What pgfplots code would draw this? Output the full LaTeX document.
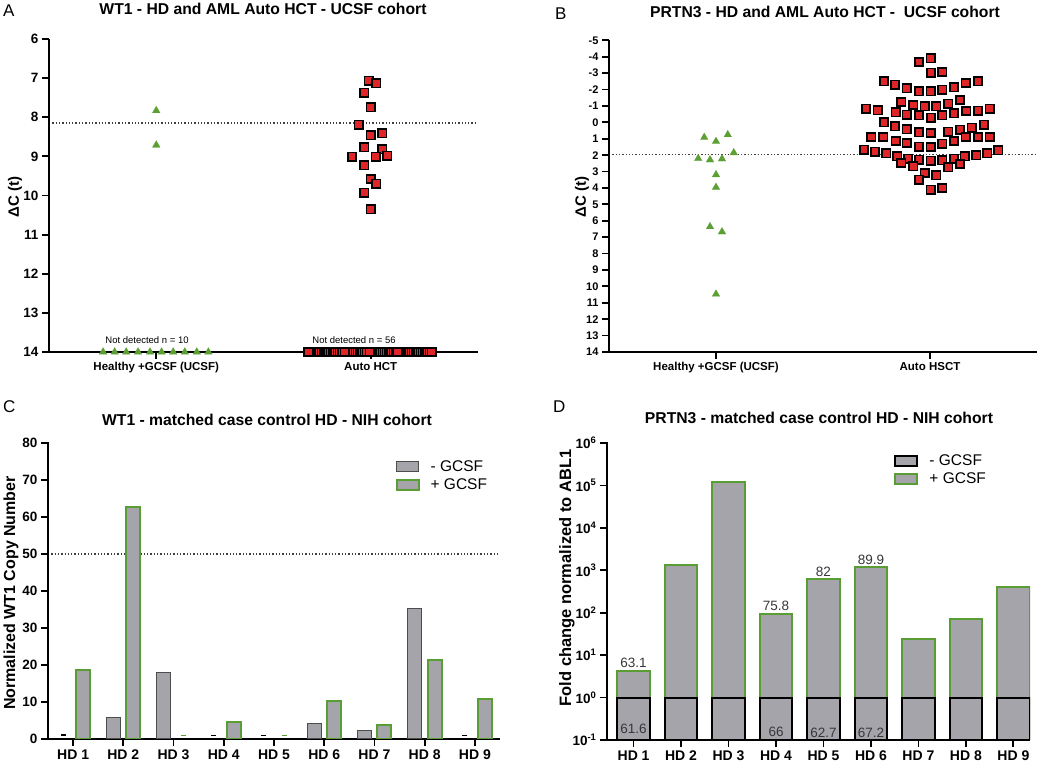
\documentclass[border=0pt]{standalone}
\usepackage{fontspec}
\setmainfont{Liberation Sans}
\usepackage{pgfplots}
\pgfplotsset{compat=1.18}
\definecolor{mkgreen}{RGB}{92,160,52}
\definecolor{mkred}{RGB}{222,38,40}
\definecolor{bargrey}{RGB}{165,164,170}
\definecolor{bargreen}{RGB}{88,158,52}
\definecolor{annot}{RGB}{55,55,60}
\pgfplotsset{
  redsq/.style={only marks, mark=square*, mark size=4.2pt, mark options={fill=mkred, draw=black, line width=1.6pt}},
  greentri/.style={only marks, mark=triangle*, mark size=4.5pt, mark options={fill=mkgreen, draw=mkgreen, line width=0.1pt}},
  boxlegend/.style={legend image code/.code={\draw[##1] (0pt,-5pt) rectangle (22pt,5pt);}},
}
\newcommand{\yline}{\draw[line width=2.4pt, black, line cap=rect] (rel axis cs:0,0) -- (rel axis cs:0,1);}
\begin{document}
\begin{tikzpicture}
\useasboundingbox (0pt,0pt) rectangle (1050pt,765pt);
\fill[white] (0pt,0pt) rectangle (1050pt,765pt);
% ---------------- Panel A
\begin{axis}[scale only axis, anchor=south west, at={(49pt,413pt)}, width=429pt, height=313pt,
  axis x line*=bottom, axis y line*=left,
  axis line style={line width=2.4pt,black,-},
  tick align=outside, major tick length=7pt, tick style={black,line width=1.8pt},
  tick label style={font=\bfseries\fontsize{13.5}{15}\selectfont},
  /pgf/number format/assume math mode=true,
  xmin=0.5, xmax=2.5, ymin=6, ymax=14, y dir=reverse,
  xtick={1,2}, xticklabels={Healthy +GCSF (UCSF), Auto HCT},
  x tick label style={font=\bfseries\fontsize{11.5}{13}\selectfont},
  ytick={6,...,14}]
\addplot[black!75, line width=1.3pt, dash pattern=on 1.3pt off 2pt] coordinates {(0.5,8.15) (2.5,8.15)};
\addplot[greentri] coordinates {(1,7.83) (1,8.71)
 (0.752,14) (0.806,14) (0.860,14) (0.915,14) (0.971,14) (1.025,14) (1.079,14) (1.133,14) (1.189,14) (1.243,14)};
\addplot[redsq] coordinates {
 (1.99,7.07) (2.026,7.13) (1.97,7.37) (2.0,7.75) (1.943,8.19) (2.0,8.46) (2.053,8.41)
 (1.97,8.77) (2.053,8.82) (1.913,9.01) (2.023,9.01) (2.078,8.98) (1.97,9.23) (2.0,9.58)
 (2.026,9.70) (1.97,9.93) (2.0,10.35)};
\addplot[redsq] coordinates {
 (1.719,14) (1.730,14) (1.740,14) (1.751,14) (1.761,14) (1.772,14) (1.782,14) (1.793,14)
 (1.803,14) (1.814,14) (1.824,14) (1.835,14) (1.845,14) (1.856,14) (1.866,14) (1.887,14)
 (1.897,14) (1.908,14) (1.918,14) (1.929,14) (1.939,14) (1.950,14) (1.960,14) (1.971,14)
 (1.981,14) (2.002,14) (2.013,14) (2.023,14) (2.034,14) (2.044,14) (2.055,14) (2.065,14)
 (2.075,14) (2.086,14) (2.096,14) (2.107,14) (2.117,14) (2.138,14) (2.149,14) (2.159,14)
 (2.170,14) (2.180,14) (2.191,14) (2.201,14) (2.212,14) (2.222,14) (2.233,14) (2.243,14)
 (2.254,14) (2.264,14) (2.275,14)
 (1.709,14) (1.879,14) (1.995,14) (2.124,14) (2.285,14)};
\yline
\end{axis}
% ---------------- Panel B
\begin{axis}[scale only axis, anchor=south west, at={(609pt,413pt)}, width=428pt, height=311.6pt,
  axis x line*=bottom, axis y line*=left,
  axis line style={line width=2.4pt,black,-},
  tick align=outside, major tick length=7pt, tick style={black,line width=1.8pt},
  tick label style={font=\bfseries\fontsize{13.5}{15}\selectfont},
  /pgf/number format/assume math mode=true,
  xmin=0.5, xmax=2.5, ymin=-5, ymax=14, y dir=reverse,
  xtick={1,2}, xticklabels={Healthy +GCSF (UCSF), Auto HSCT},
  x tick label style={font=\bfseries\fontsize{11.5}{13}\selectfont},
  y tick label style={font=\bfseries\fontsize{11}{12}\selectfont},
  ytick={-5,...,14}]
\addplot[black!75, line width=1.3pt, dash pattern=on 1.3pt off 2pt] coordinates {(0.5,1.95) (2.5,1.95)};
\addplot[greentri] coordinates {
 (0.945,0.915) (1.0,1.16) (1.055,0.75) (1.083,1.85) (0.917,2.20) (0.972,2.28)
 (1.028,2.22) (1.0,3.19) (1.0,3.96) (0.972,6.36) (1.028,6.67) (1.0,10.47)};
\addplot[redsq] coordinates {
 (1.949,-3.68) (2.003,-3.92)
 (2.005,-3.03) (2.058,-3.07)
 (1.785,-2.50) (1.836,-2.30) (1.891,-2.09) (1.949,-1.89) (2.003,-1.89) (2.058,-1.99) (2.112,-2.13) (2.167,-2.40) (2.224,-2.50)
 (1.866,-1.24) (1.921,-1.06) (1.975,-0.98) (2.030,-0.98) (2.086,-1.14) (2.140,-1.36)
 (1.701,-0.83) (1.755,-0.73) (1.840,-0.61) (1.891,-0.47) (1.949,-0.43) (2.005,-0.28) (2.058,-0.43) (2.112,-0.55) (2.170,-0.69) (2.224,-0.71) (2.279,-0.83)
 (1.785,0.0) (1.836,0.24) (1.891,0.41) (1.949,0.61) (2.003,0.65) (2.086,0.57) (2.140,0.45) (2.195,0.33) (2.252,0.14)
 (1.726,0.89) (1.782,0.89) (1.840,1.14) (1.891,1.26) (1.949,1.48) (2.003,1.50) (2.058,1.30) (2.112,1.14) (2.167,0.89) (2.224,0.89) (2.279,0.89)
 (1.692,1.67) (1.743,1.79) (1.796,1.89) (1.847,2.07) (1.897,2.22) (1.949,2.28) (2.003,2.34) (2.058,2.30) (2.112,2.22) (2.162,2.07) (2.217,2.01) (2.268,1.89) (2.319,1.71)
 (1.866,2.48) (1.921,2.68) (2.086,2.74) (2.140,2.54)
 (1.975,3.09) (2.030,3.23)
 (1.949,3.50)
 (2.003,4.11) (2.058,4.00)};
\yline
\end{axis}
% ---------------- Panel C
\begin{axis}[scale only axis, anchor=south west, at={(48pt,26pt)}, width=452pt, height=296pt,
  axis x line*=bottom, axis y line*=left,
  axis line style={line width=2.4pt,black,-},
  tick align=outside, major tick length=7pt, tick style={black,line width=1.8pt},
  tick label style={font=\bfseries\fontsize{13.5}{15}\selectfont},
  /pgf/number format/assume math mode=true,
  xmin=0.5, xmax=9.5, ymin=0, ymax=80,
  ytick={0,10,...,80},
  xtick={1,...,9}, xticklabels={HD 1,HD 2,HD 3,HD 4,HD 5,HD 6,HD 7,HD 8,HD 9},
  x tick label style={font=\bfseries\fontsize{14}{16}\selectfont},
  legend style={at={(0.762,0.955)}, anchor=north west, draw=none, fill=none,
    font=\fontsize{15.5}{17}\selectfont, row sep=2pt},
  legend cell align=left]
\addplot[black!75, line width=1.3pt, dash pattern=on 1.3pt off 2pt, forget plot] coordinates {(0.5,50) (9.5,50)};
\addplot[ybar, bar width=14pt, bar shift=-10pt, fill=bargrey, draw=black!70, line width=1pt, boxlegend]
 coordinates {(2,5.7) (3,18.0) (6,4.1) (7,2.25) (8,35.3)};
\addlegendentry{\hspace{9pt}- GCSF}
\addplot[ybar, bar width=14pt, bar shift=10pt, fill=bargrey, draw=bargreen, line width=2pt, boxlegend]
 coordinates {(1,18.7) (2,62.6) (4,4.6) (6,10.2) (7,3.9) (8,21.4) (9,10.9)};
\addlegendentry{\hspace{9pt}+ GCSF}
\addplot[only marks, mark=-, mark size=2.5pt, mark options={black, line width=1.5pt}, forget plot]
 coordinates {(0.8,1.1) (3.8,1.0) (4.8,1.0) (8.8,1.0)};
\addplot[only marks, mark=-, mark size=2.5pt, mark options={bargreen, line width=1.5pt}, forget plot]
 coordinates {(3.2,0.9) (5.2,1.0)};
\yline
\end{axis}
% ---------------- Panel D
\begin{axis}[scale only axis, anchor=south west, at={(607pt,25pt)}, width=423pt, height=297pt,
  axis x line*=bottom, axis y line*=left,
  axis line style={line width=2.4pt,black,-},
  tick align=outside, major tick length=7pt, tick style={black,line width=1.8pt},
  tick label style={font=\bfseries\fontsize{13.5}{15}\selectfont},
  ymode=log, ymin=0.1, ymax=1e6, log origin=infty,
  xmin=0.44, xmax=9.35,
  ytick={0.1,1,10,100,1000,10000,100000,1000000},
  yticklabels={10\textsuperscript{-1},10\textsuperscript{0},10\textsuperscript{1},10\textsuperscript{2},10\textsuperscript{3},10\textsuperscript{4},10\textsuperscript{5},10\textsuperscript{6}},
  yminorticks=false,
  xtick={1,...,9}, xticklabels={HD 1,HD 2,HD 3,HD 4,HD 5,HD 6,HD 7,HD 8,HD 9},
  x tick label style={font=\bfseries\fontsize{14}{16}\selectfont},
  legend style={at={(0.672,0.975)}, anchor=north west, draw=none, fill=none,
    font=\fontsize{15.5}{17}\selectfont, row sep=2pt},
  legend cell align=left, reverse legend]
\addplot[ybar, bar width=32.5pt, bar shift=0pt, fill=bargrey, draw=bargreen, line width=2pt, boxlegend]
 coordinates {(1,4.24) (2,1350) (3,120000) (4,95) (5,620) (6,1180) (7,24.4) (8,72) (9,400)};
\addlegendentry{\hspace{9pt}+ GCSF}
\addplot[ybar, bar width=32.5pt, bar shift=0pt, fill=bargrey, draw=black, line width=2pt, boxlegend]
 coordinates {(1,1) (2,1) (3,1) (4,1) (5,1) (6,1) (7,1) (8,1) (9,1)};
\addlegendentry{\hspace{9pt}- GCSF}
\begin{scope}[every node/.style={font=\fontsize{13.5}{15}\selectfont, text=annot, inner sep=0pt}]
\node[anchor=base] at (axis cs:1,4.24) [yshift=3pt] {63.1};
\node[anchor=base] at (axis cs:4,95) [yshift=3pt] {75.8};
\node[anchor=base] at (axis cs:5,620) [yshift=3pt] {82};
\node[anchor=base] at (axis cs:6,1180) [yshift=3pt] {89.9};
\node at (axis cs:1,0.18) {61.6};
\node at (axis cs:4,0.155) {66};
\node at (axis cs:5,0.15) {62.7};
\node at (axis cs:6,0.15) {67.2};
\end{scope}
\yline
\end{axis}
% ---------------- titles, letters, y labels
\begin{scope}[every node/.style={inner sep=0pt}]
\node[anchor=base, font=\bfseries\fontsize{15.7}{17}\selectfont] at (263pt,750pt) {WT1 - HD and AML Auto HCT - UCSF cohort};
\node[anchor=base, font=\bfseries\fontsize{15.7}{17}\selectfont] at (825pt,747pt) {PRTN3 - HD and AML Auto HCT -\ \ UCSF cohort};
\node[anchor=base, font=\bfseries\fontsize{15.7}{17}\selectfont] at (267pt,339pt) {WT1 - matched case control HD - NIH cohort};
\node[anchor=base, font=\bfseries\fontsize{15.7}{17}\selectfont] at (819pt,341pt) {PRTN3 - matched case control HD - NIH cohort};
\node[anchor=base west, font=\fontsize{17}{19}\selectfont] at (3pt,748pt) {A};
\node[anchor=base west, font=\fontsize{17}{19}\selectfont] at (555pt,745pt) {B};
\node[anchor=base west, font=\fontsize{17}{19}\selectfont] at (3pt,352pt) {C};
\node[anchor=base west, font=\fontsize{17}{19}\selectfont] at (553pt,352pt) {D};
\node[rotate=90, font=\bfseries\fontsize{15}{17}\selectfont] at (15pt,568pt) {ΔC (t)};
\node[rotate=90, font=\bfseries\fontsize{15}{17}\selectfont] at (582pt,568pt) {ΔC (t)};
\node[rotate=90, font=\bfseries\fontsize{16}{18}\selectfont] at (11pt,172pt) {Normalized WT1 Copy Number};
\node[rotate=90, font=\bfseries\fontsize{16.5}{18}\selectfont] at (567pt,187pt) {Fold change normalized to ABL1};
\node[font=\fontsize{9.5}{11}\selectfont] at (147pt,425pt) {Not detected n = 10};
\node[font=\fontsize{9.5}{11}\selectfont] at (354pt,425pt) {Not detected n = 56};
\end{scope}
\end{tikzpicture}
\end{document}
